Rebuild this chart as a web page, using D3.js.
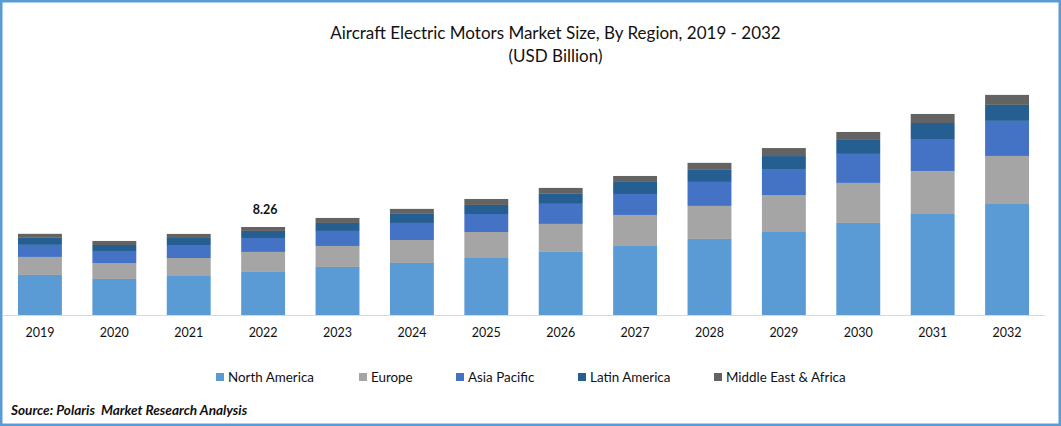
<!DOCTYPE html>
<html>
<head>
<meta charset="utf-8">
<script src="https://cdnjs.cloudflare.com/ajax/libs/d3/7.8.5/d3.min.js"></script>
<style>
  html, body { margin: 0; padding: 0; background: #fff; }
  svg { display: block; }
  text { font-family: Lato, "Open Sans", sans-serif; fill: #111; }
</style>
</head>
<body>
<div class="chart"></div>
<script>
// values in USD billion
var years = ["2019", "2020", "2021", "2022", "2023", "2024", "2025", "2026", "2027", "2028", "2029", "2030", "2031", "2032"];
var northAmerica = [3.76, 3.38, 3.66, 4.04, 4.51, 4.88, 5.35, 5.92, 6.48, 7.14, 7.79, 8.64, 9.48, 10.42];
var europe = [1.69, 1.50, 1.69, 1.88, 1.97, 2.16, 2.44, 2.63, 2.91, 3.10, 3.47, 3.76, 4.04, 4.51];
var asiaPacific = [1.13, 1.13, 1.22, 1.31, 1.41, 1.60, 1.69, 1.88, 1.97, 2.25, 2.44, 2.72, 3.00, 3.29];
var latinAmerica = [0.66, 0.56, 0.66, 0.66, 0.75, 0.85, 0.85, 0.94, 1.13, 1.13, 1.22, 1.31, 1.50, 1.50];
var middleEast = [0.38, 0.38, 0.38, 0.37, 0.47, 0.47, 0.56, 0.56, 0.56, 0.66, 0.75, 0.75, 0.85, 0.94];
var regions = ["North America", "Europe", "Asia Pacific", "Latin America", "Middle East & Africa"];
var labelledYear = "2022";
var labelledValue = "8.26";

var colors = ["#5B9BD5", "#A5A5A5", "#4472C4", "#255E91", "#636363"];
var legendX = [216, 359, 456, 578, 714];

var svgWidth = 1061;
var svgHeight = 426;
var baseline = 315;

var svg = d3.select(".chart")
  .append("svg")
  .attr("width", svgWidth)
  .attr("height", svgHeight);

// frame
svg.append("rect")
  .attr("x", 1.25)
  .attr("y", 1.25)
  .attr("width", svgWidth - 2.5)
  .attr("height", svgHeight - 2.5)
  .attr("fill", "#fff")
  .attr("stroke", "#5B9BD5")
  .attr("stroke-width", 2.5);

// title
svg.append("text")
  .attr("x", 555.5)
  .attr("y", 39)
  .attr("text-anchor", "middle")
  .attr("font-size", 17)
  .text("Aircraft Electric Motors Market Size, By Region, 2019 - 2032");

svg.append("text")
  .attr("x", 555.5)
  .attr("y", 62)
  .attr("text-anchor", "middle")
  .attr("font-size", 17)
  .text("(USD Billion)");

// scales
var xScale = d3.scaleBand()
  .domain(years)
  .range([2.75, 1044.25])
  .paddingInner(0.41)
  .paddingOuter(0.205);

var yScale = d3.scaleLinear()
  .domain([0, 8.26])
  .range([baseline, 227]);

// stack the series
var table = years.map(function(year, i) {
  return {
    year: year,
    "North America": northAmerica[i],
    "Europe": europe[i],
    "Asia Pacific": asiaPacific[i],
    "Latin America": latinAmerica[i],
    "Middle East & Africa": middleEast[i]
  };
});

var stacked = d3.stack().keys(regions)(table);

svg.selectAll(".series")
  .data(stacked)
  .enter()
  .append("g")
  .attr("class", "series")
  .attr("fill", function(d, i) { return colors[i]; })
  .selectAll("rect")
  .data(function(d) { return d; })
  .enter()
  .append("rect")
  .attr("x", function(d) { return xScale(d.data.year); })
  .attr("y", function(d) { return yScale(d[1]); })
  .attr("width", xScale.bandwidth())
  .attr("height", function(d) { return yScale(d[0]) - yScale(d[1]); });

// x axis
var xAxis = svg.append("g")
  .attr("transform", "translate(0," + baseline + ")")
  .call(d3.axisBottom(xScale).tickSize(0).tickPadding(13));

xAxis.select(".domain")
  .attr("stroke", "#D9D9D9")
  .attr("stroke-width", 1.2);

xAxis.selectAll("text")
  .attr("font-size", 12.5)
  .attr("font-family", "Lato")
  .attr("fill", "#111");

// the one total shown on the chart
svg.append("text")
  .attr("x", xScale(labelledYear) + xScale.bandwidth() / 2 + 2)
  .attr("y", 214)
  .attr("text-anchor", "middle")
  .attr("font-size", 12.5)
  .attr("font-weight", "bold")
  .text(labelledValue);

// legend
var legend = svg.selectAll(".legend-item")
  .data(regions)
  .enter()
  .append("g")
  .attr("class", "legend-item")
  .attr("transform", function(d, i) { return "translate(" + legendX[i] + ",373)"; });

legend.append("rect")
  .attr("width", 8)
  .attr("height", 8)
  .attr("fill", function(d, i) { return colors[i]; });

legend.append("text")
  .attr("x", 12)
  .attr("y", 8.5)
  .attr("font-size", 13.4)
  .text(function(d) { return d; });

// source note
svg.append("text")
  .attr("x", 11)
  .attr("y", 414.5)
  .attr("font-size", 13.6)
  .attr("font-weight", "bold")
  .attr("font-style", "italic")
  .style("white-space", "pre")
  .text("Source: Polaris  Market Research Analysis");
</script>
</body>
</html>
